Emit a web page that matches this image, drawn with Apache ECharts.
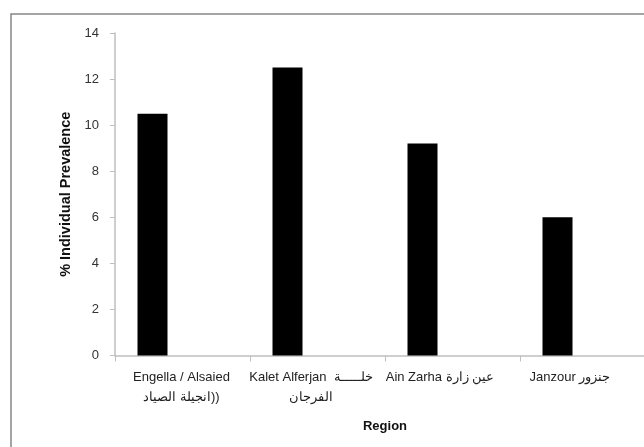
<!DOCTYPE html>
<html>
<head>
<meta charset="utf-8">
<script src="https://cdn.jsdelivr.net/npm/echarts@6/dist/echarts.min.js"></script>
<style>
  html, body { margin: 0; padding: 0; background: #fff; }
  #chart { width: 644px; height: 447px; }
</style>
</head>
<body>
<div id="chart"></div>
<script>
// Regions surveyed (English + Arabic names)
const regions = [
  'Engella / Alsaied\nانجيلة الصياد))',
  'Kalet Alferjan  خلـــــة\nالفرجان',
  'Ain Zarha عين زارة',
  'Janzour جنزور'
];
// % individual prevalence per region
const prevalence = [10.5, 12.5, 9.2, 6.0];
// the two companion series of the clustered layout carry no values
const emptySeriesA = [null, null, null, null];
const emptySeriesB = [null, null, null, null];
// y-axis ticks
const yMin = 0, yMax = 14, yStep = 2;

// label shift (px of right padding) so each caption sits slightly left of centre
const labelPad = [2, 13, 25, 35];

const font = '"Liberation Sans", Arial, sans-serif';
const baseText = { fontFamily: font, fontSize: 13, color: '#222', lineHeight: 20 };
const rich = {};
labelPad.forEach((p, i) => {
  rich['p' + i] = Object.assign({}, baseText, { padding: [0, p, 0, 0] });
  rich['q' + i] = Object.assign({}, baseText);
});

// one line of a caption; a bracket run at either end of the Arabic text is
// drawn as its own token at the right end of the line
function captionLine(line, i) {
  const m = line.match(/^([()]+)(.*)$/) || line.match(/^(.*?)([()]+)$/);
  if (m) {
    const lead = /^[()]+$/.test(m[1]);
    const brackets = lead ? m[1] : m[2];
    const text = lead ? m[2] : m[1];
    return `{q${i}|${text}}{p${i}|${brackets.replace(/\(/g, ')')}}`;
  }
  return `{p${i}|${line}}`;
}

const chart = echarts.init(document.getElementById('chart'), null, { renderer: 'canvas' });
chart.setOption({
  animation: false,
  backgroundColor: '#fff',
  textStyle: { fontFamily: font },
  graphic: [{
    type: 'rect',
    shape: { x: 11, y: 14, width: 700, height: 500 },
    style: { fill: 'none', stroke: '#868686', lineWidth: 1.5 },
    silent: true, z: -1
  }],
  grid: { left: 115, top: 33, width: 540, height: 322.5, outerBoundsMode: 'none' },
  xAxis: {
    type: 'category',
    data: regions,
    name: 'Region',
    nameLocation: 'middle',
    nameGap: 64,
    nameTextStyle: { fontFamily: font, fontSize: 13, fontWeight: 'bold', color: '#111' },
    axisLine: { lineStyle: { color: '#bfbfbf', width: 1.5 } },
    axisTick: { show: true, length: 6, lineStyle: { color: '#bfbfbf' } },
    axisLabel: {
      margin: 12,
      interval: 0,
      align: 'center',
      formatter: (value, index) =>
        value.split('\n').map(line => captionLine(line, index)).join('\n'),
      rich: rich
    },
    splitLine: { show: false }
  },
  yAxis: {
    type: 'value',
    min: yMin, max: yMax, interval: yStep,
    name: '% Individual Prevalence',
    nameLocation: 'middle',
    nameGap: 32,
    nameRotate: 90,
    nameTextStyle: { fontFamily: font, fontSize: 14.5, fontWeight: 'bold', color: '#111' },
    axisLine: { show: true, lineStyle: { color: '#bfbfbf', width: 1.5 } },
    axisTick: { show: true, length: 5, lineStyle: { color: '#bfbfbf' } },
    axisLabel: { margin: 16, fontFamily: font, fontSize: 13, color: '#333' },
    splitLine: { show: false }
  },
  series: [
    { type: 'bar', data: prevalence, barWidth: 30, barGap: '0%',
      itemStyle: { color: '#000' } },
    { type: 'bar', data: emptySeriesA, barWidth: 30, barGap: '0%',
      itemStyle: { color: '#7f7f7f' } },
    { type: 'bar', data: emptySeriesB, barWidth: 30, barGap: '0%',
      itemStyle: { color: '#bfbfbf' } }
  ]
});
</script>
</body>
</html>
